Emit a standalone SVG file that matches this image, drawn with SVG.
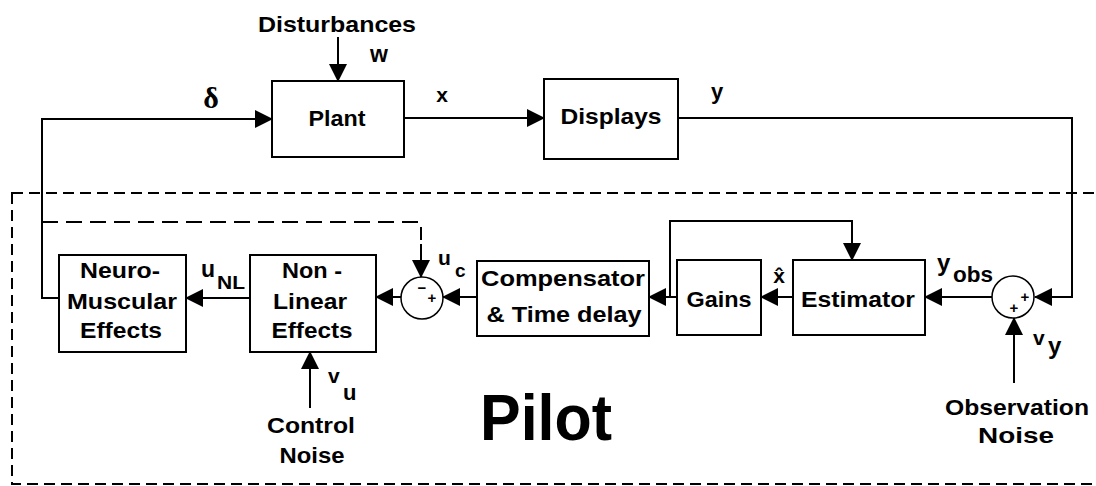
<svg xmlns="http://www.w3.org/2000/svg" width="1096" height="486" viewBox="0 0 1096 486">
<style>
.box{fill:#fff;stroke:#000;stroke-width:2}
.ln{fill:none;stroke:#000;stroke-width:2}
.arr{fill:none;stroke:#000;stroke-width:2;marker-end:url(#ah)}
.dash{fill:none;stroke:#000;stroke-width:2;stroke-dasharray:11 6}
.dash2{fill:none;stroke:#000;stroke-width:2;stroke-dasharray:16 8}
.sum{fill:#fff;stroke:#000;stroke-width:1.5}
text{font-family:"Liberation Sans",Arial,sans-serif;font-weight:bold;fill:#000}
.lbl{font-size:22px;text-anchor:middle}
.sym{font-size:21px}
.sub{font-size:19px}
.sg{font-size:15px;text-anchor:middle}
</style>
<defs>
<marker id="ah" markerUnits="userSpaceOnUse" markerWidth="18" markerHeight="18" refX="17" refY="9" orient="auto">
<path d="M0,0 L18,9 L0,18 z" fill="#000"/>
</marker>
</defs>
<rect x="12" y="193" width="1100" height="291" class="dash"/>
<g id="connectors">
<path class="arr" d="M338,37 L338,81"/>
<path class="arr" d="M59,298 L42,298 L42,119 L272,119"/>
<path class="arr" d="M404,118 L544,118"/>
<path class="arr" d="M678,118 L1072,118 L1072,297 L1035,297"/>
<path class="arr" d="M992,297 L925,297"/>
<path class="arr" d="M1014,383 L1014,318"/>
<path class="arr" d="M793,297 L761,297"/>
<path class="arr" d="M677,297 L649,297"/>
<path class="arr" d="M670,297 L670,221 L852,221 L852,260"/>
<path class="arr" d="M477,297 L443,297"/>
<path class="arr" d="M401,297 L376,297"/>
<path class="arr" d="M250,298 L186,298"/>
<path class="arr" d="M310,408 L310,352"/>
<path class="dash2" d="M42,222 L421,222 L421,240"/>
<path class="arr" d="M421,244 L421,277"/>
</g>
<g id="disturbances"><text x="337" y="32" class="lbl" font-size="21" textLength="158" lengthAdjust="spacingAndGlyphs">Disturbances</text></g>
<g id="labels">
<text x="379" y="62" font-size="23" text-anchor="middle">w</text>
<text x="211" y="108" style="font-family:'Liberation Serif',serif;font-size:30px" text-anchor="middle">δ</text>
<text x="442" y="102" class="sym" text-anchor="middle">x</text>
<text x="717" y="99" font-size="22" text-anchor="middle">y</text>
<text x="937" y="271" font-size="24">y</text><text x="953" y="282" font-size="22" textLength="40" lengthAdjust="spacingAndGlyphs">obs</text>
<text x="779" y="283" class="sym" text-anchor="middle">x̂</text>
<text x="438" y="265" class="sym">u</text><text x="455" y="277" class="sub">c</text>
<text x="201" y="277" font-size="23">u</text><text x="217" y="289" class="sub" textLength="28" lengthAdjust="spacingAndGlyphs">NL</text>
<text x="328" y="383" class="sym">v</text><text x="343" y="400" font-size="22">u</text>
<text x="1033" y="345" class="sym">v</text><text x="1048" y="354" font-size="24">y</text>
</g>
<g id="plant"><rect x="272" y="81" width="132" height="76" class="box"/><text x="337" y="126" class="lbl" textLength="57" lengthAdjust="spacingAndGlyphs">Plant</text></g>
<g id="displays"><rect x="544" y="79" width="134" height="80" class="box"/><text x="611" y="124" class="lbl" textLength="101" lengthAdjust="spacingAndGlyphs">Displays</text></g>
<g id="estimator"><rect x="793" y="260" width="132" height="75" class="box"/><text x="858" y="307" class="lbl" textLength="114" lengthAdjust="spacingAndGlyphs">Estimator</text></g>
<g id="gains"><rect x="677" y="260" width="84" height="75" class="box"/><text x="719" y="307" class="lbl" textLength="65" lengthAdjust="spacingAndGlyphs">Gains</text></g>
<g id="compensator"><rect x="477" y="261" width="172" height="75" class="box"/><text x="563" y="286" class="lbl" textLength="164" lengthAdjust="spacingAndGlyphs">Compensator</text><text x="564" y="322" class="lbl" textLength="155" lengthAdjust="spacingAndGlyphs">&amp; Time delay</text></g>
<g id="sum1"><circle cx="422" cy="298" r="21" class="sum"/><text x="422" y="293" class="sg">−</text><text x="432" y="303" class="sg">+</text></g>
<g id="sum2"><circle cx="1013" cy="297" r="21" class="sum"/><text x="1025" y="302" class="sg">+</text><text x="1014" y="313" class="sg">+</text></g>
<g id="nonlinear"><rect x="250" y="255" width="126" height="97" class="box"/><text x="312" y="278" class="lbl" textLength="60" lengthAdjust="spacingAndGlyphs">Non -</text><text x="310" y="309" class="lbl" textLength="74" lengthAdjust="spacingAndGlyphs">Linear</text><text x="312" y="338" class="lbl" textLength="81" lengthAdjust="spacingAndGlyphs">Effects</text></g>
<g id="neuromuscular"><rect x="59" y="255" width="127" height="97" class="box"/><text x="120" y="278" class="lbl" textLength="80" lengthAdjust="spacingAndGlyphs">Neuro-</text><text x="122" y="309" class="lbl" textLength="110" lengthAdjust="spacingAndGlyphs">Muscular</text><text x="121" y="338" class="lbl" textLength="82" lengthAdjust="spacingAndGlyphs">Effects</text></g>
<g id="controlnoise"><text x="311" y="433" class="lbl" textLength="88" lengthAdjust="spacingAndGlyphs">Control</text><text x="312" y="463" class="lbl" textLength="65" lengthAdjust="spacingAndGlyphs">Noise</text></g>
<g id="obsnoise"><text x="1017" y="415" class="lbl" font-size="21" textLength="144" lengthAdjust="spacingAndGlyphs">Observation</text><text x="1016" y="443" class="lbl" font-size="21" textLength="76" lengthAdjust="spacingAndGlyphs">Noise</text></g>
<g id="pilot"><text x="480" y="440" font-size="64" textLength="132" lengthAdjust="spacingAndGlyphs">Pilot</text></g>
</svg>
